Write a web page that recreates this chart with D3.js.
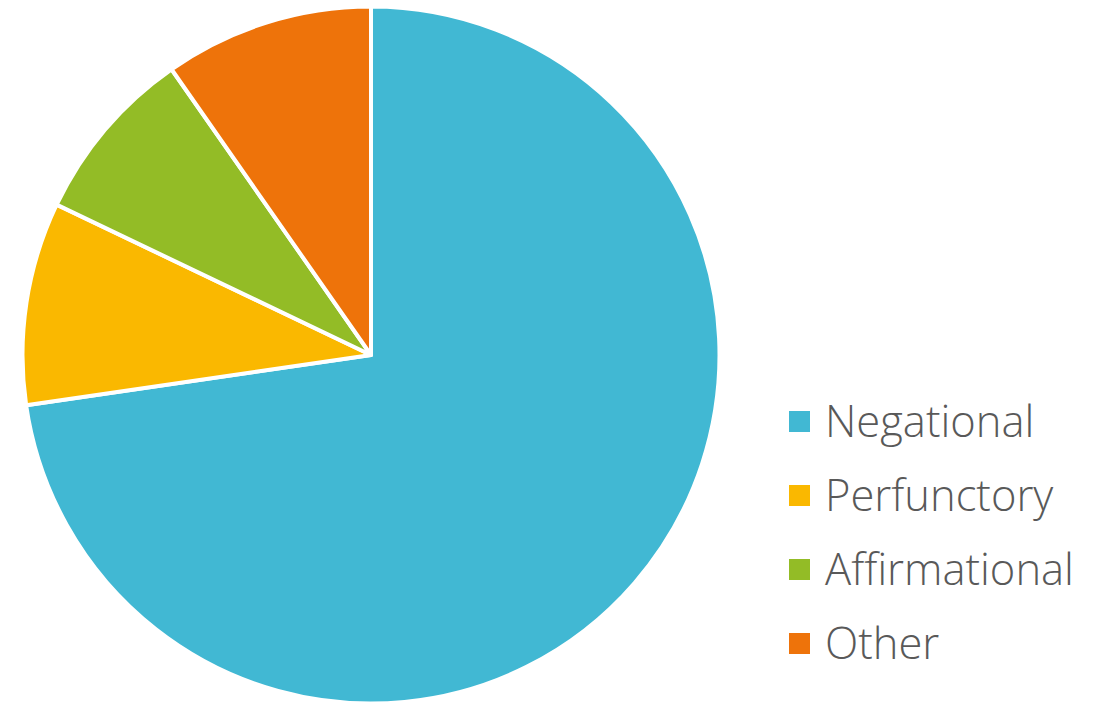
<!DOCTYPE html>
<html><head><meta charset="utf-8">
<script src="https://cdn.jsdelivr.net/npm/d3@7"></script>
<style>html,body{margin:0;padding:0;background:#fff;overflow:hidden}</style>
</head><body>
<svg id="chart" width="1094" height="702"></svg>
<script>
const categories = ["Negational", "Perfunctory", "Affirmational", "Other"];
const values = [72.7, 9.4, 8.2, 9.7];
const colors = ["#41B8D3", "#FAB800", "#93BC26", "#EE730A"];

const svg = d3.select("#chart");
const cx = 371, cy = 355, r = 348.5;

const pie = d3.pie().sort(null).value(d => d.v);
const arc = d3.arc().innerRadius(0).outerRadius(r);
const data = categories.map((c, i) => ({c, v: values[i], col: colors[i]}));

svg.append("g").attr("transform", `translate(${cx},${cy})`)
  .selectAll("path").data(pie(data)).join("path")
  .attr("d", arc)
  .attr("fill", d => d.data.col)
  .attr("stroke", "#fff")
  .attr("stroke-width", 4)
  .attr("stroke-linejoin", "round");

const ly = d3.scalePoint().domain(categories).range([422, 644]);
const lg = svg.append("g");
const items = lg.selectAll("g").data(data).join("g")
  .attr("transform", d => `translate(0,${ly(d.c)})`);
items.append("rect").attr("x", 789).attr("y", -11).attr("width", 21).attr("height", 21)
  .attr("fill", d => d.col);
items.append("text").attr("x", 825).attr("y", 15)
  .attr("font-family", "'Open Sans', 'Segoe UI', sans-serif")
  .attr("font-weight", 300)
  .attr("font-size", 43.5)
  .attr("fill", "#595959")
  .text(d => d.c);
</script>
</body></html>
